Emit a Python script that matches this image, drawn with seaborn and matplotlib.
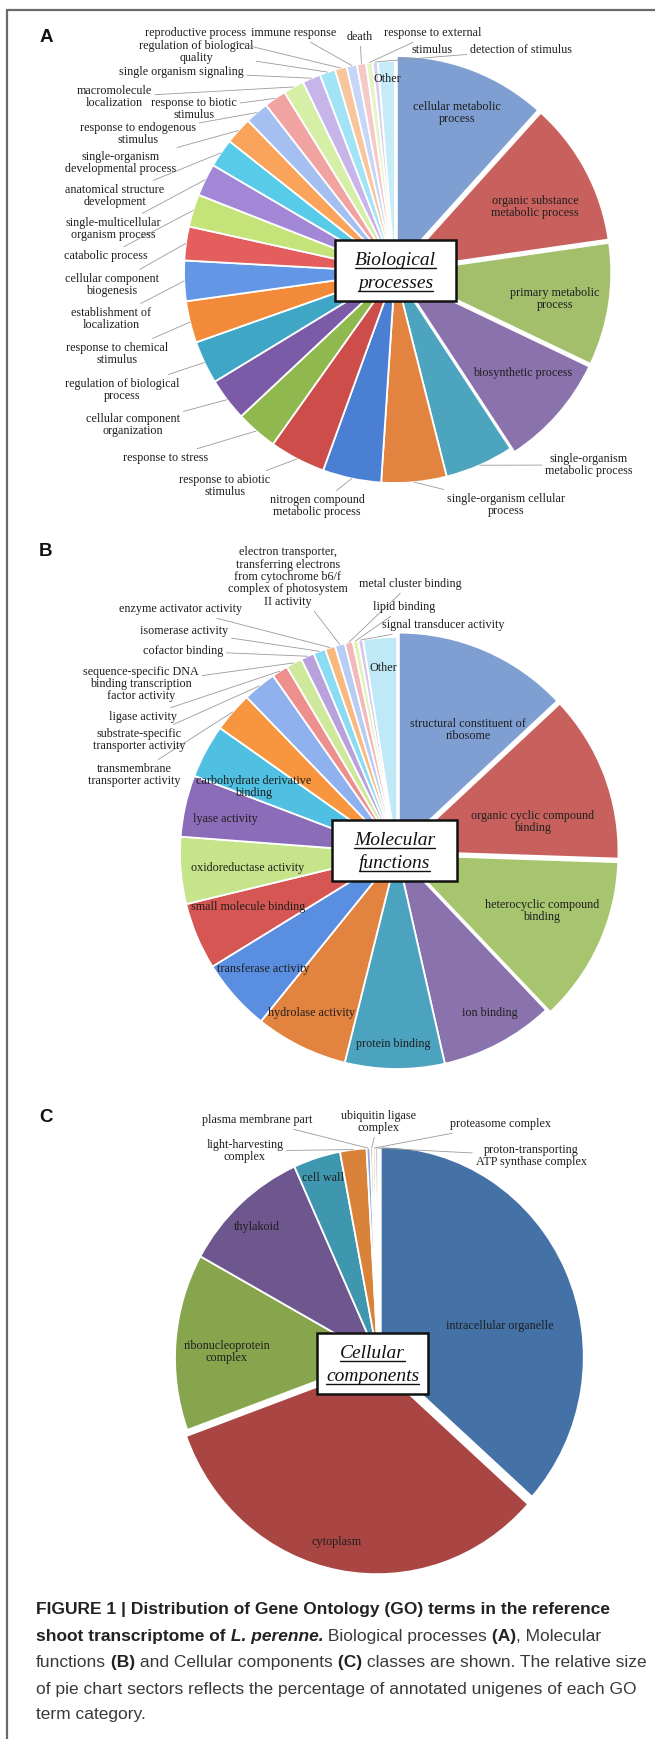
import matplotlib

matplotlib.use("Agg")

import matplotlib.pyplot as plt
import numpy as np
import seaborn as sns
from matplotlib import font_manager
from matplotlib.lines import Line2D
from matplotlib.patches import Rectangle

sns.set_theme(style="white")
plt.rcParams["font.family"] = ["Liberation Serif", "DejaVu Serif"]

W, H = 655, 1739

# ---- data: Biological processes (A), clockwise from 12 o'clock ----
bp_terms = [
    "cellular metabolic process", "organic substance metabolic process", "primary metabolic process",
    "biosynthetic process", "single-organism metabolic process", "single-organism cellular process",
    "nitrogen compound metabolic process", "response to abiotic stimulus", "response to stress",
    "cellular component organization", "regulation of biological process", "response to chemical stimulus",
    "establishment of localization", "cellular component biogenesis", "catabolic process",
    "single-multicellular organism process", "anatomical structure development",
    "single-organism developmental process", "response to endogenous stimulus", "response to biotic stimulus",
    "macromolecule localization", "single organism signaling", "regulation of biological quality",
    "reproductive process", "immune response", "death", "response to external stimulus",
    "detection of stimulus", "Other",
]
bp_values = [11.7, 11.1, 9.4, 8.7, 5.3, 5.0, 4.5, 4.3, 3.2, 3.3, 3.3, 3.2, 3.1, 2.6, 2.5, 2.5, 2.2, 2.1,
             1.8, 1.7, 1.6, 1.4, 1.2, 0.9, 0.8, 0.7, 0.5, 0.4, 1.3]
bp_colors = ["#7f9fd2", "#c8615e", "#a3bf6c", "#8a72ad", "#4da4bf", "#e2833f", "#4b7fd4", "#cc4d4a",
             "#8fb94e", "#7b5ba8", "#3fa6c6", "#f28a3a", "#6496e6", "#e35e5c", "#c4e379", "#a287d6",
             "#58cbe8", "#f9a35b", "#a4bff0", "#f1a3a2", "#d6efa6", "#c7b5ea", "#a2e3f5", "#f9c59c",
             "#c5d6f6", "#f5c9c8", "#e6f5c8", "#d9cfee", "#c6ecf8"]

# ---- data: Molecular functions (B) ----
mf_terms = [
    "structural constituent of ribosome", "organic cyclic compound binding", "heterocyclic compound binding",
    "ion binding", "protein binding", "hydrolase activity", "transferase activity", "small molecule binding",
    "oxidoreductase activity", "lyase activity", "carbohydrate derivative binding",
    "transmembrane transporter activity", "substrate-specific transporter activity", "ligase activity",
    "sequence-specific DNA binding transcription factor activity", "cofactor binding", "isomerase activity",
    "enzyme activator activity",
    "electron transporter, transferring electrons from cytochrome b6/f complex of photosystem II activity",
    "metal cluster binding", "lipid binding", "signal transducer activity", "Other",
]
mf_values = [13.0, 12.5, 12.4, 8.5, 7.4, 6.9, 5.4, 5.0, 5.0, 4.6, 4.0, 3.0, 2.5, 1.2, 1.2, 1.0, 0.9,
             0.75, 0.75, 0.6, 0.4, 0.36, 2.5]
mf_colors = ["#7f9fd2", "#c8615e", "#a7c46f", "#8a72ad", "#4ba3bf", "#e2833f", "#5a8ee0", "#d65653",
             "#c6e58a", "#8b6cb8", "#4fc0e2", "#f7963f", "#8fb2ee", "#ec8f8d", "#cfe99c", "#b9a1dc",
             "#8adcf2", "#f9b87e", "#b8cdf4", "#f3b8b8", "#e2f2b8", "#d5c8ea", "#bfe9f7"]

# ---- data: Cellular components (C) ----
cc_terms = [
    "intracellular organelle", "cytoplasm", "ribonucleoprotein complex", "thylakoid", "cell wall",
    "light-harvesting complex", "plasma membrane part", "ubiquitin ligase complex", "proteasome complex",
    "proton-transporting ATP synthase complex",
]
cc_values = [36.6, 32.8, 13.6, 10.2, 3.75, 2.1, 0.3, 0.2, 0.2, 0.2]
cc_colors = ["#4472a6", "#a94643", "#87a54d", "#6e568f", "#3e97ae", "#d9823a", "#8fa9d6", "#d99694",
             "#b9cf8e", "#b3a2c7"]

# ---- label layout (pixel positions, text, inside flag) ----
bp_layout = {
    "cellular metabolic process": ("cellular metabolic\nprocess", 457, 113, True),
    "organic substance metabolic process": ("organic substance\nmetabolic process", 535, 207, True),
    "primary metabolic process": ("primary metabolic\nprocess", 555, 299, True),
    "biosynthetic process": ("biosynthetic process", 523, 373, True),
    "Other": ("Other", 387, 79, True),
    "single-organism metabolic process": ("single-organism\nmetabolic process", 589, 465, False),
    "single-organism cellular process": ("single-organism cellular\nprocess", 506, 505, False),
    "nitrogen compound metabolic process": ("nitrogen compound\nmetabolic process", 317, 506, False),
    "response to abiotic stimulus": ("response to abiotic\nstimulus", 225, 486, False),
    "response to stress": ("response to stress", 166, 458, False),
    "cellular component organization": ("cellular component\norganization", 133, 425, False),
    "regulation of biological process": ("regulation of biological\nprocess", 122, 390, False),
    "response to chemical stimulus": ("response to chemical\nstimulus", 117, 354, False),
    "establishment of localization": ("establishment of\nlocalization", 111, 319, False),
    "cellular component biogenesis": ("cellular component\nbiogenesis", 112, 285, False),
    "catabolic process": ("catabolic process", 106, 256, False),
    "single-multicellular organism process": ("single-multicellular\norganism process", 113, 229, False),
    "anatomical structure development": ("anatomical structure\ndevelopment", 115, 196, False),
    "single-organism developmental process": ("single-organism\ndevelopmental process", 121, 163, False),
    "response to endogenous stimulus": ("response to endogenous\nstimulus", 138, 134, False),
    "response to biotic stimulus": ("response to biotic\nstimulus", 194, 109, False),
    "macromolecule localization": ("macromolecule\nlocalization", 114, 97, False),
    "single organism signaling": ("single organism signaling", 181, 72, False),
    "regulation of biological quality": ("regulation of biological\nquality", 196, 52, False),
    "reproductive process": ("reproductive process", 196, 33, False),
    "immune response": ("immune response", 294, 33, False),
    "death": ("death", 360, 37, False),
    "response to external stimulus": ("response to external", 433, 33, False),
    "detection of stimulus": ("detection of stimulus", 521, 50, False),
}
# second line of a label drawn on its own, so it does not cover its neighbour
bp_extra = [("stimulus", 432, 50)]

mf_layout = {
    "structural constituent of ribosome": ("structural constituent of\nribosome", 468, 730, True),
    "organic cyclic compound binding": ("organic cyclic compound\nbinding", 533, 822, True),
    "heterocyclic compound binding": ("heterocyclic compound\nbinding", 542, 911, True),
    "ion binding": ("ion binding", 490, 1013, True),
    "protein binding": ("protein binding", 393, 1044, True),
    "hydrolase activity": ("hydrolase activity", 312, 1013, True),
    "transferase activity": ("transferase activity", 263, 969, True),
    "small molecule binding": ("small molecule binding", 248, 907, True),
    "oxidoreductase activity": ("oxidoreductase activity", 248, 868, True),
    "lyase activity": ("lyase activity", 225, 819, True),
    "carbohydrate derivative binding": ("carbohydrate derivative\nbinding", 254, 787, True),
    "Other": ("Other", 383, 668, True),
    "transmembrane transporter activity": ("transmembrane\ntransporter activity", 134, 775, False),
    "substrate-specific transporter activity": ("substrate-specific\ntransporter activity", 139, 740, False),
    "ligase activity": ("ligase activity", 143, 717, False),
    "sequence-specific DNA binding transcription factor activity":
        ("sequence-specific DNA\nbinding transcription\nfactor activity", 141, 684, False),
    "cofactor binding": ("cofactor binding", 183, 651, False),
    "isomerase activity": ("isomerase activity", 184, 631, False),
    "enzyme activator activity": ("enzyme activator activity", 181, 609, False),
    "electron transporter, transferring electrons from cytochrome b6/f complex of photosystem II activity":
        ("electron transporter,\ntransferring electrons\nfrom cytochrome b6/f\ncomplex of photosystem\nII activity",
         288, 577, False),
    "metal cluster binding": ("metal cluster binding", 410, 584, False),
    "lipid binding": ("lipid binding", 404, 607, False),
    "signal transducer activity": ("signal transducer activity", 443, 625, False),
}

cc_layout = {
    "intracellular organelle": ("intracellular organelle", 500, 1326, True),
    "cytoplasm": ("cytoplasm", 337, 1542, True),
    "ribonucleoprotein complex": ("ribonucleoprotein\ncomplex", 227, 1352, True),
    "thylakoid": ("thylakoid", 257, 1227, True),
    "cell wall": ("cell wall", 323, 1178, True),
    "light-harvesting complex": ("light-harvesting\ncomplex", 245, 1151, False),
    "plasma membrane part": ("plasma membrane part", 257, 1120, False),
    "ubiquitin ligase complex": ("ubiquitin ligase\ncomplex", 378, 1122, False),
    "proteasome complex": ("proteasome complex", 501, 1124, False),
    "proton-transporting ATP synthase complex": ("proton-transporting\nATP synthase complex", 531, 1156, False),
}

LABEL_SIZE = 8.7
LABEL_COLOR = "#1e1e1e"

fig = plt.figure(figsize=(W / 100, H / 100), dpi=100)
fig.patch.set_facecolor("white")
renderer = fig.canvas.get_renderer()


def draw_pie(values, colors, explode, cx, cy, rx, ry):
    m = 1.15
    ax = fig.add_axes([(cx - rx * m) / W, 1 - (cy + ry * m) / H, 2 * rx * m / W, 2 * ry * m / H])
    wedges, _ = ax.pie(values, colors=colors, startangle=90, counterclock=False, explode=explode,
                       wedgeprops=dict(edgecolor="white", linewidth=1.3))
    ax.set_aspect("auto")
    ax.set_xlim(-m, m)
    ax.set_ylim(-m, m)
    ax.axis("off")
    return ax, wedges


def label_pie(ax, wedges, terms, layout):
    for wedge, term in zip(wedges, terms):
        if term not in layout:
            continue
        text, x, y, inside = layout[term]
        if inside:
            fig.text(x / W, 1 - y / H, text, ha="center", va="center", fontsize=LABEL_SIZE,
                     color=LABEL_COLOR, linespacing=1.05, zorder=3)
            continue
        ang = np.deg2rad((wedge.theta1 + wedge.theta2) / 2)
        wx, wy = wedge.center
        ax.annotate(text, xy=(wx + wedge.r * np.cos(ang), wy + wedge.r * np.sin(ang)), xycoords="data",
                    xytext=(x / W, 1 - y / H), textcoords="figure fraction", ha="center", va="center",
                    fontsize=LABEL_SIZE, color=LABEL_COLOR, linespacing=1.05, annotation_clip=False,
                    arrowprops=dict(arrowstyle="-", color="#9a9a9a", lw=0.6, shrinkA=0, shrinkB=0))


def title_box(lines, rect, baselines):
    x0, y0, x1, y1 = rect
    fig.add_artist(Rectangle((x0 / W, 1 - y1 / H), (x1 - x0) / W, (y1 - y0) / H, transform=fig.transFigure,
                             facecolor="white", edgecolor="#111111", linewidth=1.8, zorder=4))
    cx = (x0 + x1) / 2
    for s, yb in zip(lines, baselines):
        t = fig.text(cx / W, 1 - yb / H, s, ha="center", va="baseline", fontsize=14, fontstyle="italic",
                     color="#111111", zorder=5)
        bb = t.get_window_extent(renderer=renderer)
        fig.add_artist(Line2D([bb.x0 / W, bb.x1 / W], [1 - (yb + 2.5) / H] * 2, transform=fig.transFigure,
                              color="#111111", lw=1.0, zorder=5))


# Panel A
bp_explode = [0.025 if i < 4 else 0 for i in range(len(bp_values))]
ax_a, w_a = draw_pie(bp_values, bp_colors, bp_explode, 395, 272, 211, 211)
label_pie(ax_a, w_a, bp_terms, bp_layout)
for s, x, y in bp_extra:
    fig.text(x / W, 1 - y / H, s, ha="center", va="center", fontsize=LABEL_SIZE, color=LABEL_COLOR)
title_box(["Biological", "processes"], (335, 240, 456, 301), [265, 288])

# Panel B
mf_explode = [0.022 if i < 3 else 0 for i in range(len(mf_values))]
ax_b, w_b = draw_pie(mf_values, mf_colors, mf_explode, 397, 853, 217, 216)
label_pie(ax_b, w_b, mf_terms, mf_layout)
title_box(["Molecular", "functions"], (332, 820, 457, 881), [845, 868])

# Panel C
cc_explode = [0.015, 0.03] + [0] * (len(cc_values) - 2)
ax_c, w_c = draw_pie(cc_values, cc_colors, cc_explode, 378, 1358, 203, 210)
label_pie(ax_c, w_c, cc_terms, cc_layout)
title_box(["Cellular", "components"], (317, 1333, 428, 1394), [1358, 1381])

# panel letters
for letter, y in [("A", 37), ("B", 552), ("C", 1118)]:
    fig.text(46 / W, 1 - y / H, letter, ha="center", va="center", fontsize=13.5, fontweight="bold",
             family=["Liberation Sans", "DejaVu Sans"], color="#111111")

# frame lines
fig.add_artist(Line2D([7 / W, 7 / W], [1 - 10 / H, 0], transform=fig.transFigure, color="#6a6a6a", lw=1.6))
fig.add_artist(Line2D([7 / W, 1], [1 - 10 / H, 1 - 10 / H], transform=fig.transFigure, color="#6a6a6a", lw=1.6))

# caption
available = {f.name for f in font_manager.fontManager.ttflist}
cap_family = ["Liberation Sans Narrow"] if "Liberation Sans Narrow" in available else ["Liberation Sans"]
cap_family = cap_family + ["DejaVu Sans"]

caption_lines = [
    [("FIGURE 1 | Distribution of Gene Ontology (GO) terms in the reference", "bold", "normal")],
    [("shoot transcriptome of", "bold", "normal"), (" L. perenne.", "bold", "italic"),
     (" Biological processes", "normal", "normal"), (" (A)", "bold", "normal"), (", Molecular", "normal", "normal")],
    [("functions", "normal", "normal"), (" (B)", "bold", "normal"), (" and Cellular components", "normal", "normal"),
     (" (C)", "bold", "normal"), (" classes are shown. The relative size", "normal", "normal")],
    [("of pie chart sectors reflects the percentage of annotated unigenes of each GO", "normal", "normal")],
    [("term category.", "normal", "normal")],
]
caption_baselines = [1614, 1641, 1667, 1694, 1719]


def run_width(runs, size):
    total = 0
    for s, weight, style in runs:
        t = fig.text(0, 0, s, fontsize=size, fontweight=weight, fontstyle=style, family=cap_family)
        total += t.get_window_extent(renderer=renderer).width
        t.remove()
    return total


# one size for the whole caption: widest line fits the reference text width
widest = max(run_width(runs, 13) for runs in caption_lines)
cap_size = 13 * 608 / widest

for runs, yb in zip(caption_lines, caption_baselines):
    x = 36
    for s, weight, style in runs:
        t = fig.text(x / W, 1 - yb / H, s, ha="left", va="baseline", fontsize=cap_size, fontweight=weight,
                     fontstyle=style, family=cap_family, color="#222222" if weight == "bold" else "#3a3a3a")
        x += t.get_window_extent(renderer=renderer).width

fig.savefig("out.png", dpi=100)
